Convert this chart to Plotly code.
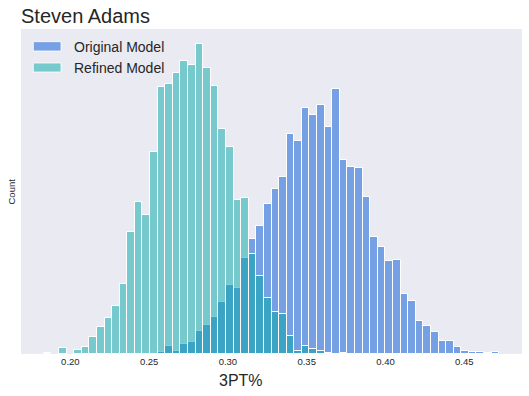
import plotly.graph_objects as go

# Histogram bins (shared by both series)
BIN_START = 0.18313
BIN_WIDTH = 0.004818
N_BINS = 60

# Counts per bin
original_counts = [0] * 15 + [2, 8, 3, 10, 12, 23, 29, 37, 52, 69,
                              66, 96, 115, 128, 150, 165, 177, 220, 213, 246,
                              239, 249, 227, 265, 194, 187, 186, 157, 117, 107,
                              93, 94, 60, 53, 33, 28, 22, 13, 13, 7,
                              3, 2, 2, 1, 2]
refined_counts = [1, 0, 6, 0, 4, 7, 17, 27, 36, 48,
                  70, 122, 152, 139, 202, 267, 270, 281, 293, 289,
                  310, 286, 268, 225, 207, 154, 156, 100, 78, 56,
                  42, 40, 18, 3, 8, 5, 3, 1, 0, 1] + [0] * 20

x_ticks = [0.20, 0.25, 0.30, 0.35, 0.40, 0.45]
series_names = ["Original Model", "Refined Model"]
title_text = "Steven Adams"

centers = [BIN_START + (i + 0.5) * BIN_WIDTH for i in range(N_BINS)]

BLUE = "#75A0E3"
TEAL = "rgba(2,168,166,0.5)"
FONT = "Liberation Sans, Arial, sans-serif"
TXT = "#262626"

def nz(vals):
    return [v if v > 0 else None for v in vals]

fig = go.Figure()
fig.add_trace(go.Bar(x=centers, y=nz(original_counts), width=BIN_WIDTH,
                     name=series_names[0], marker=dict(color=BLUE, line=dict(color="white", width=1))))
fig.add_trace(go.Bar(x=centers, y=nz(refined_counts), width=BIN_WIDTH,
                     name=series_names[1], marker=dict(color=TEAL, line=dict(color="white", width=1))))

lo = BIN_START
hi = BIN_START + N_BINS * BIN_WIDTH
pad = 0.05 * (hi - lo)
ymax = max(max(original_counts), max(refined_counts)) * 1.05

W, H = 529, 396
L, R, T, B = 21, 7, 29, 42
pw, ph = W - L - R, H - T - B

def px_x(px):
    return (px - L) / pw

def px_y(py):
    return (H - B - py) / ph

shapes = []
annotations = []
legend_items = [(series_names[0], BLUE, 41.7, 51.0, 47), (series_names[1], TEAL, 63.0, 72.0, 68)]
for name, col, y0, y1, yc in legend_items:
    shapes.append(dict(type="rect", xref="paper", yref="paper",
                       x0=px_x(33.3), x1=px_x(61), y0=px_y(y1), y1=px_y(y0),
                       fillcolor=col, line=dict(color="white", width=0.8), layer="above"))
    annotations.append(dict(xref="paper", yref="paper", x=px_x(72), y=px_y(yc),
                            xanchor="left", yanchor="middle", text=name, showarrow=False,
                            font=dict(family=FONT, size=14, color=TXT)))

# axis titles placed as annotations
annotations.append(dict(xref="paper", yref="paper", x=px_x(241), y=px_y(380),
                        xanchor="center", yanchor="middle", text="3PT%", showarrow=False,
                        font=dict(family=FONT, size=16, color=TXT)))
annotations.append(dict(xref="paper", yref="paper", x=px_x(11), y=0.5,
                        xanchor="center", yanchor="middle", text="Count", showarrow=False,
                        textangle=-90, font=dict(family=FONT, size=9.5, color=TXT)))

fig.update_layout(
    width=W, height=H,
    margin=dict(l=L, r=R, t=T, b=B, pad=0, autoexpand=False),
    paper_bgcolor="white", plot_bgcolor="#EAEAF2",
    barmode="overlay", bargap=0, showlegend=False,
    title=dict(text=title_text, x=21 / W, xanchor="left", xref="container",
               y=1 - 15.5 / H, yanchor="middle", yref="container",
               font=dict(family=FONT, size=20, color=TXT)),
    xaxis=dict(range=[lo - pad, hi + pad], tickvals=x_ticks, tickformat=".2f",
               showgrid=False, zeroline=False, showline=False, ticks="", automargin=False,
               tickfont=dict(family=FONT, size=9.5, color=TXT)),
    yaxis=dict(range=[0, ymax], showticklabels=False, showgrid=False, zeroline=False,
               showline=False, ticks="", automargin=False),
    shapes=shapes, annotations=annotations,
)

fig.write_html("out.html", config={"displayModeBar": False},
               post_script="document.body.style.margin='0px';document.body.style.overflow='hidden';")
